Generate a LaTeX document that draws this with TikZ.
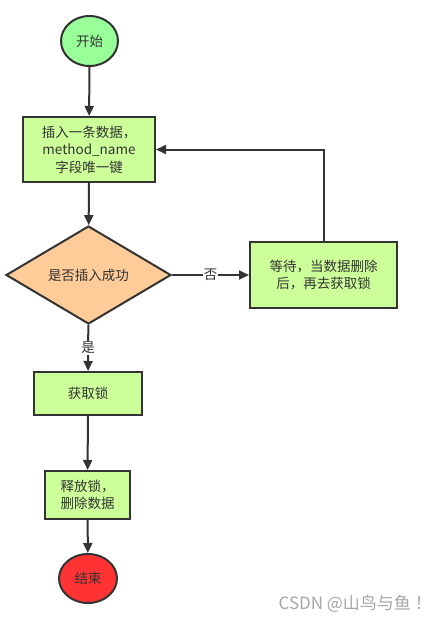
\documentclass[tikz,border=0pt]{standalone}
\usepackage{fontspec}
\setmainfont{Noto Sans CJK SC}
\usetikzlibrary{shapes.geometric,arrows.meta}
\definecolor{strokec}{HTML}{333333}
\definecolor{startc}{HTML}{99FF99}
\definecolor{boxc}{HTML}{CCFF99}
\definecolor{diac}{HTML}{FFCC99}
\definecolor{endc}{HTML}{FF3333}
\tikzset{
  base/.style={draw=strokec, line width=2pt, text=strokec, font=\fontsize{13.5}{17.5}\selectfont, inner sep=0pt, align=center},
  oval/.style={base, ellipse, minimum width=57pt, minimum height=50pt},
  procbox/.style={base, rectangle},
  decide/.style={base, diamond, fill=diac, minimum width=165pt, minimum height=98pt, aspect=1.68},
  conn/.style={draw=strokec, line width=2pt, -{Triangle[length=10pt,width=9pt]}},
  lab/.style={fill=white, text=strokec, font=\fontsize{13.5}{15}\selectfont, inner sep=1pt}
}
\begin{document}
\begin{tikzpicture}[x=1pt,y=-1pt]
\useasboundingbox (0,0) rectangle (444,622);
\node[oval, fill=startc] (start) at (89.5,41) {开始};
\node[procbox, fill=boxc, minimum width=132pt, minimum height=65pt] (insert) at (89,149.5) {插入一条数据，\\method\_name\\字段唯一键};
\node[decide] (ok) at (88.5,275) {是否插入成功};
\node[procbox, fill=boxc, minimum width=147pt, minimum height=66pt] (wait) at (323.5,275) {等待，当数据删除\\后，再去获取锁};
\node[procbox, fill=boxc, minimum width=108pt, minimum height=43pt] (lock) at (88,393.5) {获取锁};
\node[procbox, fill=boxc, minimum width=85pt, minimum height=48pt] (release) at (87.5,495) {释放锁，\\删除数据};
\node[oval, fill=endc, minimum width=58pt, minimum height=49pt] (end) at (88,578.5) {结束};
\node[text=black!35, font=\fontsize{17}{19}\selectfont, anchor=east, inner sep=0pt] (wm) at (432,604) {CSDN @山鸟与鱼 ！};
\coordinate (corner) at (wait.north |- insert.east);
\draw[conn] (start) -- (insert);
\draw[conn] (insert) -- (ok);
\draw[conn] (ok) -- node[lab, pos=0.5] {否} (wait);
\draw[conn] (ok) -- node[lab, pos=0.5] {是} (lock);
\draw[conn] (wait.north) -- (corner) -- (insert.east);
\draw[conn] (lock) -- (release);
\draw[conn] (release) -- (end);
\end{tikzpicture}
\end{document}
